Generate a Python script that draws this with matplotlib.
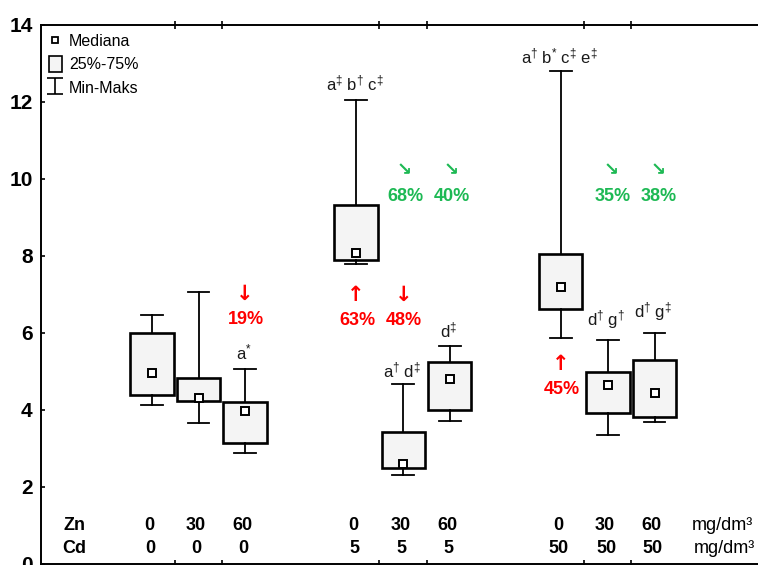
import matplotlib
matplotlib.use("Agg")
import matplotlib.pyplot as plt
from matplotlib.lines import Line2D
from matplotlib.patches import Patch
from matplotlib.path import Path

# ==========================================================
# DATA
# ==========================================================

zn = ["0", "30", "60", "0", "30", "60", "0", "30", "60"]
cd = ["0", "0", "0", "5", "5", "5", "50", "50", "50"]

v_min = [4.11, 3.66, 2.87, 7.79, 2.29, 3.71, 5.86, 3.33, 3.68]
q25 = [4.37, 4.22, 3.13, 7.90, 2.47, 3.98, 6.62, 3.91, 3.81]
median = [4.95, 4.29, 3.97, 8.07, 2.59, 4.80, 7.20, 4.64, 4.44]
q75 = [5.98, 4.82, 4.20, 9.31, 3.41, 5.24, 8.05, 4.97, 5.28]
v_max = [6.47, 7.07, 5.06, 12.05, 4.67, 5.66, 12.80, 5.81, 5.99]

# significance letters above boxes: (box index, text, y)
sig_box = [2, 3, 4, 5, 6, 7, 8]
sig_text = [r"a$^{*}$",
            r"a$^{\ddag}$ b$^{\dag}$ c$^{\ddag}$",
            r"a$^{\dag}$ d$^{\ddag}$",
            r"d$^{\ddag}$",
            r"a$^{\dag}$ b$^{*}$ c$^{\ddag}$ e$^{\ddag}$",
            r"d$^{\dag}$ g$^{\dag}$",
            r"d$^{\dag}$ g$^{\ddag}$"]
sig_y = [5.48, 12.49, 5.03, 6.07, 13.18, 6.33, 6.55]

# percentage changes (box index, arrow, label, y of label)
pct_box = [2, 3, 4, 6, 4, 5, 7, 8]
pct_arrow = ["↓", "↑", "↓", "↑", "↘", "↘", "↘", "↘"]
pct_label = ["19%", "63%", "48%", "45%", "68%", "40%", "35%", "38%"]
pct_y = [6.35, 6.33, 6.33, 4.53, 9.54, 9.54, 9.54, 9.54]
pct_color = ["red", "red", "red", "red", "#1DB954", "#1DB954", "#1DB954", "#1DB954"]

# ==========================================================
# LAYOUT
# ==========================================================

positions = [1.0, 2.0, 3.0, 5.38, 6.39, 7.39, 9.77, 10.78, 11.78]
tick_pos = [1.5, 2.5, 5.88, 6.89, 10.27, 11.28]

narrow = ["Liberation Sans Narrow", "Liberation Sans", "DejaVu Sans"]
regular = ["Liberation Sans", "DejaVu Sans"]

plt.rcParams["mathtext.fontset"] = "custom"
plt.rcParams["mathtext.rm"] = "Liberation Sans"
plt.rcParams["mathtext.it"] = "Liberation Sans"

fig = plt.figure(figsize=(7.58, 5.65), dpi=100)
ax = fig.add_axes([41 / 758, 1.5 / 565, (772 - 41) / 758, (563.5 - 25) / 565])

stats = []
for i in range(len(median)):
    stats.append({
        "med": median[i], "q1": q25[i], "q3": q75[i],
        "whislo": v_min[i], "whishi": v_max[i], "mean": median[i],
    })

ax.bxp(
    stats,
    positions=positions,
    widths=0.93,
    capwidths=0.47,
    patch_artist=True,
    showfliers=False,
    showmeans=True,
    boxprops=dict(facecolor="#f4f4f4", edgecolor="black", linewidth=1.9),
    whiskerprops=dict(color="black", linewidth=1.3),
    capprops=dict(color="black", linewidth=1.3),
    medianprops=dict(linestyle="none"),
    meanprops=dict(marker="s", markersize=5.5, markerfacecolor="white",
                   markeredgecolor="black", markeredgewidth=1.4),
    zorder=3,
)

# significance letters
for b, t, yy in zip(sig_box, sig_text, sig_y):
    ax.text(positions[b] - 0.03, yy, t, ha="center", va="center",
            fontsize=12, family=regular, color="#1a1a1a")

# percentage changes
for b, a, lab, yy, c in zip(pct_box, pct_arrow, pct_label, pct_y, pct_color):
    dx = 0.02
    if a == "↘":
        dx = 0.05 if b in (4, 5) else 0.1
    ax.text(positions[b] + dx, yy, lab, ha="center", va="center",
            fontsize=13, fontweight="bold", family=narrow, color=c)
    ax.text(positions[b] + dx - 0.02, yy + (0.66 if a != "↘" else 0.68), a,
            ha="center", va="center", fontsize=15 if a != "↘" else 13,
            fontweight="bold", family=["DejaVu Sans"], color=c)

# bottom treatment labels
ax.text(-0.66, 1.0, "Zn", ha="center", va="center", fontsize=13,
        fontweight="bold", family=narrow)
ax.text(-0.66, 0.40, "Cd", ha="center", va="center", fontsize=13,
        fontweight="bold", family=narrow)
for p, z, c in zip(positions, zn, cd):
    ax.text(p - 0.06, 1.0, z, ha="center", va="center", fontsize=13,
            fontweight="bold", family=narrow)
    ax.text(p - 0.04, 0.40, c, ha="center", va="center", fontsize=13,
            fontweight="bold", family=narrow)
ax.text(13.23, 1.0, "mg/dm³", ha="center", va="center", fontsize=13,
        family=narrow)
ax.text(13.29, 0.40, "mg/dm³", ha="center", va="center", fontsize=13,
        family=narrow)

# axes
ax.set_ylim(0, 14)
ax.set_xlim(-1.378, 14.3)
ax.set_yticks([0, 2, 4, 6, 8, 10, 12, 14])
ax.set_xticks(tick_pos)
ax.set_xticklabels([])
ax.tick_params(axis="y", direction="in", length=3, width=1.2, pad=6,
               labelsize=15)
ax.tick_params(axis="x", direction="inout", length=6, width=1.2,
               top=True, bottom=True)
for lab in ax.get_yticklabels():
    lab.set_fontweight("bold")
    lab.set_family(narrow)
for s in ["left", "top", "bottom", "right"]:
    ax.spines[s].set_linewidth(1.4)

# legend
ibar = Path([(-1, 1), (1, 1), (0, 1), (0, -1), (-1, -1), (1, -1)],
            [Path.MOVETO, Path.LINETO, Path.MOVETO, Path.LINETO,
             Path.MOVETO, Path.LINETO])
handles = [
    Line2D([], [], marker="s", markersize=5, markerfacecolor="white",
           markeredgecolor="black", markeredgewidth=1.3, linestyle="none"),
    Patch(facecolor="#f4f4f4", edgecolor="black", linewidth=1.2),
    Line2D([], [], marker=ibar, markersize=11, color="black",
           markeredgewidth=1.2, linestyle="none"),
]
leg = ax.legend(handles, ["Mediana", "25%-75%", "Min-Maks"],
                loc="upper left", frameon=False, handlelength=0.8,
                handleheight=1.1, handletextpad=0.45, labelspacing=0.45,
                borderaxespad=0.2, borderpad=0.3,
                prop={"family": regular, "size": 11.5})

fig.savefig("out.png", dpi=100)
